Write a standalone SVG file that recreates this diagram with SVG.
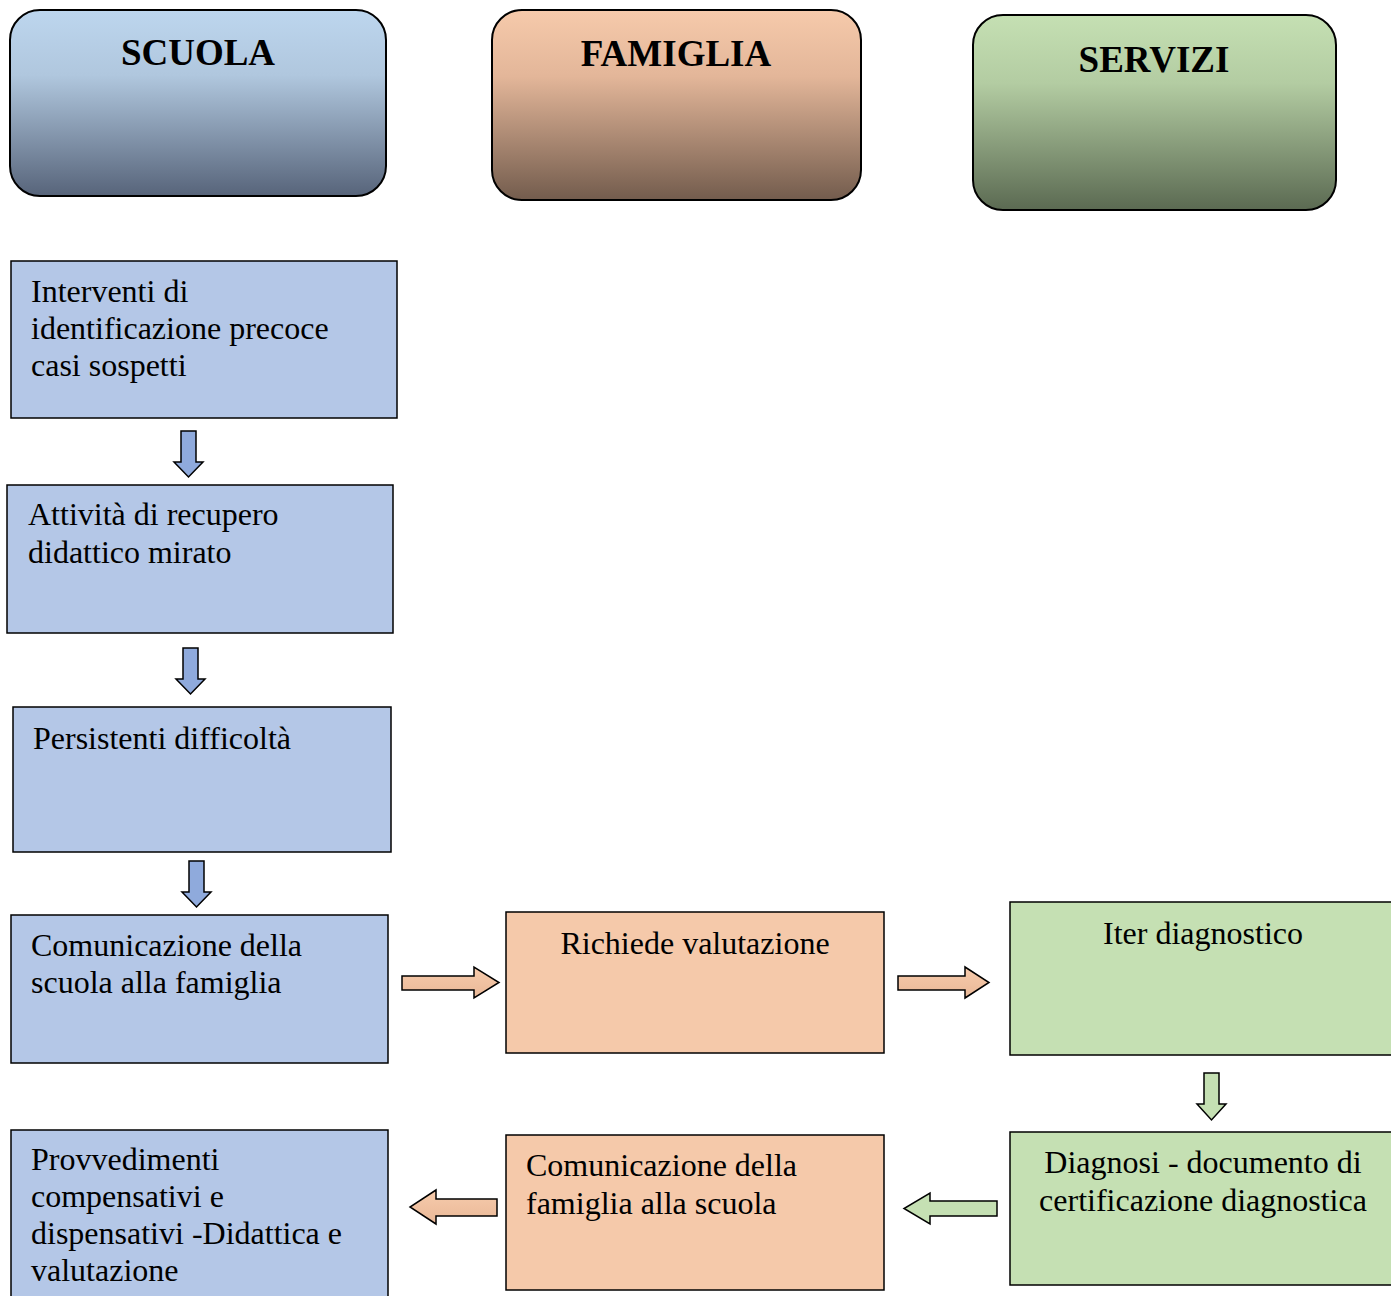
<svg xmlns="http://www.w3.org/2000/svg" width="1391" height="1296" viewBox="0 0 1391 1296">
<style>
.hdr{stroke:#000;stroke-width:2}
.ht{font-family:"Liberation Serif","Times New Roman",serif;font-weight:bold;font-size:37px;fill:#000;text-anchor:middle}
.bx{stroke:#000;stroke-width:1.5}
.blue{fill:#b4c7e7}
.peach{fill:#f5c9aa}
.green{fill:#c5e0b3}
.t{font-family:"Liberation Serif","Times New Roman",serif;font-size:32px;fill:#000}
.c{text-anchor:middle}
.ar{stroke:#000;stroke-width:1.5;stroke-linejoin:miter}
</style>
<defs>
<linearGradient id="gS" x1="0" y1="0" x2="0" y2="1">
<stop offset="0" stop-color="#bdd6ee"/><stop offset="0.35" stop-color="#b0c7de"/><stop offset="1" stop-color="#57647a"/>
</linearGradient>
<linearGradient id="gF" x1="0" y1="0" x2="0" y2="1">
<stop offset="0" stop-color="#f6caab"/><stop offset="0.35" stop-color="#e3b699"/><stop offset="1" stop-color="#735c4d"/>
</linearGradient>
<linearGradient id="gV" x1="0" y1="0" x2="0" y2="1">
<stop offset="0" stop-color="#c5e0b3"/><stop offset="0.35" stop-color="#b3cca2"/><stop offset="1" stop-color="#5b6a52"/>
</linearGradient>
<linearGradient id="gA" x1="0" y1="0" x2="0" y2="1">
<stop offset="0" stop-color="#f7cbac"/><stop offset="1" stop-color="#e9b897"/>
</linearGradient>
</defs>

<g id="hdr-scuola">
<rect class="hdr" x="10" y="10" width="376" height="186" rx="30" fill="url(#gS)"/>
<text class="ht" x="198" y="65">SCUOLA</text>
</g>
<g id="hdr-famiglia">
<rect class="hdr" x="492" y="10" width="369" height="190" rx="30" fill="url(#gF)"/>
<text class="ht" x="676" y="66">FAMIGLIA</text>
</g>
<g id="hdr-servizi">
<rect class="hdr" x="973" y="15" width="363" height="195" rx="30" fill="url(#gV)"/>
<text class="ht" x="1154" y="72">SERVIZI</text>
</g>

<g id="n1">
<rect class="bx blue" x="11" y="261" width="386" height="157"/>
<text class="t" x="31" y="302">Interventi di</text>
<text class="t" x="31" y="339">identificazione precoce</text>
<text class="t" x="31" y="376">casi sospetti</text>
</g>
<g id="n2">
<rect class="bx blue" x="7" y="485" width="386" height="148"/>
<text class="t" x="28" y="525">Attività di recupero</text>
<text class="t" x="28" y="563">didattico mirato</text>
</g>
<g id="n3">
<rect class="bx blue" x="13" y="707" width="378" height="145"/>
<text class="t" x="33" y="749">Persistenti difficoltà</text>
</g>
<g id="n4">
<rect class="bx blue" x="11" y="915" width="377" height="148"/>
<text class="t" x="31" y="956">Comunicazione della</text>
<text class="t" x="31" y="993">scuola alla famiglia</text>
</g>
<g id="n5">
<rect class="bx blue" x="11" y="1130" width="377" height="170"/>
<text class="t" x="31" y="1170">Provvedimenti</text>
<text class="t" x="31" y="1207">compensativi e</text>
<text class="t" x="31" y="1244">dispensativi -Didattica e</text>
<text class="t" x="31" y="1281">valutazione</text>
</g>
<g id="n6">
<rect class="bx peach" x="506" y="912" width="378" height="141"/>
<text class="t c" x="695" y="954">Richiede valutazione</text>
</g>
<g id="n7">
<rect class="bx green" x="1010" y="902" width="385" height="153"/>
<text class="t c" x="1203" y="944">Iter diagnostico</text>
</g>
<g id="n8">
<rect class="bx green" x="1010" y="1132" width="385" height="153"/>
<text class="t c" x="1203" y="1173">Diagnosi - documento di</text>
<text class="t c" x="1203" y="1211">certificazione diagnostica</text>
</g>
<g id="n9">
<rect class="bx peach" x="506" y="1135" width="378" height="155"/>
<text class="t" x="526" y="1176">Comunicazione della</text>
<text class="t" x="526" y="1214">famiglia alla scuola</text>
</g>

<g id="connectors">
<polygon class="ar" fill="#8faadc" points="181,431 196,431 196,462 203,462 188.5,477 174,462 181,462"/>
<polygon class="ar" fill="#8faadc" points="183,648 198,648 198,679 205,679 190.5,694 176,679 183,679"/>
<polygon class="ar" fill="#8faadc" points="189,861 204,861 204,892 211,892 196.5,907 182,892 189,892"/>
<polygon class="ar" fill="url(#gA)" points="402,976 474,976 474,967 499,982.5 474,998 474,990 402,990"/>
<polygon class="ar" fill="url(#gA)" points="898,976 965,976 965,967 989,982.5 965,998 965,990 898,990"/>
<polygon class="ar" fill="url(#gA)" points="497,1199 436,1199 436,1190 410,1207 436,1224 436,1216 497,1216"/>
<polygon class="ar" fill="#c5e0b3" points="997,1201 930,1201 930,1193 904,1208.5 930,1224 930,1216 997,1216"/>
<polygon class="ar" fill="#c5e0b3" points="1204,1073 1219,1073 1219,1104 1226,1104 1211.5,1120 1197,1104 1204,1104"/>
</g>
</svg>
